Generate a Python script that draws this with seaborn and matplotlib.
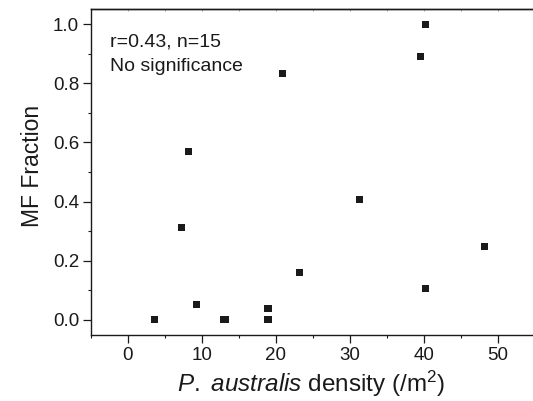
import matplotlib
matplotlib.use("Agg")
import matplotlib.pyplot as plt
from matplotlib.ticker import MultipleLocator, FixedLocator
import seaborn as sns
import pandas as pd

# Data
density = [3.65, 7.2, 8.25, 9.25, 12.95, 13.25, 18.95, 18.95, 20.9, 23.2, 31.35, 39.6, 40.2, 40.2, 48.2]
mf_fraction = [0.0, 0.311, 0.568, 0.053, 0.0, 0.0, 0.040, 0.0, 0.834, 0.160, 0.406, 0.891, 1.0, 0.106, 0.248]
x_ticks = [0, 10, 20, 30, 40, 50]
y_ticks = [0.0, 0.2, 0.4, 0.6, 0.8, 1.0]
annotation = ["r=0.43, n=15", "No significance"]

df = pd.DataFrame({"density": density, "mf": mf_fraction})

sns.set_style("ticks")
plt.rcParams["font.family"] = ["Liberation Sans", "DejaVu Sans"]
plt.rcParams["mathtext.fontset"] = "custom"
plt.rcParams["mathtext.rm"] = "Liberation Sans"
plt.rcParams["mathtext.it"] = "Liberation Sans:italic"

fig = plt.figure(figsize=(5.33, 4.01), dpi=100, facecolor="white")
# axes extends past the right edge of the canvas (the frame is cropped there in the reference)
left_px, right_px = 91, 600
ax = fig.add_axes([left_px / 533, (401 - 334.7) / 401, (right_px - left_px) / 533, (334.7 - 9.3) / 401])
ax.set_facecolor("white")

sns.scatterplot(data=df, x="density", y="mf", marker="s", s=26, color="#1a1a1a",
                edgecolor="none", linewidth=0, ax=ax, zorder=3, legend=False)

ax.set_xlim(-5, -5 + (right_px - left_px) / 7.392)
ax.set_ylim(-0.05, 1.05)
ax.set_xticks(x_ticks)
ax.set_yticks(y_ticks)
ax.set_xticklabels([str(v) for v in x_ticks])
ax.set_yticklabels([f"{v:.1f}" for v in y_ticks])
ax.xaxis.set_minor_locator(FixedLocator([-5, 5, 15, 25, 35, 45]))
ax.yaxis.set_minor_locator(MultipleLocator(0.1))

for s in ax.spines.values():
    s.set_linewidth(1.0)
    s.set_color("#1a1a1a")
ax.spines["right"].set_visible(False)

ax.tick_params(which="major", direction="out", length=5.5, width=0.9, color="#1a1a1a",
               labelsize=13.5, labelcolor="#1a1a1a", pad=3)
ax.tick_params(which="minor", direction="out", length=2.5, width=0.8, color="#1a1a1a")

sec = ax.secondary_xaxis("top")
sec.set_xticks(list(range(-5, 51, 5)))
sec.tick_params(direction="in", length=1.5, width=0.6, colors="#999999", labeltop=False)
sec.spines["top"].set_linewidth(1.0)
sec.spines["top"].set_color("#1a1a1a")

ax.set_xlabel(r"$\it{P.\ australis}$ density (/m$^{2}$)", fontsize=17.5, color="#1a1a1a")
ax.xaxis.set_label_coords((311.5 - left_px) / (right_px - left_px), -0.105)
ax.set_ylabel("MF Fraction", fontsize=16.5, color="#1a1a1a")
ax.yaxis.set_label_coords(-0.103 * 454 / (right_px - left_px), 0.52)

ax.text(110, 401 - 46.7, annotation[0], transform=None, fontsize=14, color="#1a1a1a", va="baseline")
ax.text(110, 401 - 70.7, annotation[1], transform=None, fontsize=14, color="#1a1a1a", va="baseline")

fig.savefig("out.png", dpi=100)
